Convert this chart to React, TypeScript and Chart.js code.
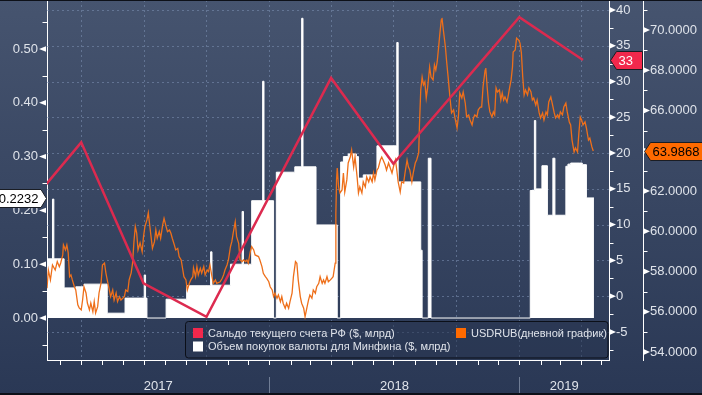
import React, { useEffect, useRef } from "react";
import { Chart, registerables } from "chart.js";

Chart.register(...registerables);

// x values: days counted from 2017-01-01
const xMinDay = 40;
const xMaxDay = 861;

const seriesNames = [
  "Сальдо текущего счета РФ ($, млрд)",
  "USDRUB(дневной график)",
  "Объем покупок валюты для Минфина ($, млрд)",
];
const yearLabels = ["2017", "2018", "2019"];

// Current account balance, $ bn (quarterly)
const caDays = [0, 90, 181, 273, 455, 546, 730, 823];
const caValues = [11.2, 21.5, 1.8, -2.9, 30.5, 18.5, 39.0, 33.0];

// MinFin FX purchases, $ bn per day (step levels)
const buyDays = [
  40, 48, 50, 65, 82, 94, 128, 154, 182, 184, 186, 214, 244, 279, 281, 308, 325, 327, 339, 355, 357, 371, 375,
  402, 412, 414, 433, 464, 469, 473, 480, 492, 495, 502, 522, 551, 553, 586, 588, 597, 601, 746, 752, 754, 763,
  771, 779, 782, 798, 801, 805, 818, 822, 828, 839,
];
const buyValues = [
  0.11, 0.221, 0.11, 0.056, 0.058, 0.063, 0.009, 0.037, 0.08, 0.037, 0, 0.035, 0.06, 0.123, 0.061, 0.1, 0.198, 0.1,
  0.218, 0.44, 0.218, 0, 0.271, 0.281, 0.557, 0.281, 0.173, 0, 0.29, 0.3, 0.305, 0.3, 0.26, 0.266, 0.32, 0.512,
  0.253, 0.126, 0, 0.297, 0, 0.237, 0.367, 0.24, 0.283, 0.191, 0.297, 0.191, 0.282, 0.286, 0.288, 0.288, 0.285,
  0.2232, 0.2232,
];

// USDRUB daily
const fxDays = [
  40, 42, 45, 48, 52, 55, 58, 60, 63, 64, 67, 69, 71, 73, 75, 77, 80, 82, 85, 87, 90, 92, 94, 97, 99, 102, 104, 107,
  109, 111, 114, 116, 119, 121, 124, 126, 128, 131, 133, 136, 138, 141, 143, 146, 148, 153, 155, 158, 160, 163, 165,
  167, 169, 171, 173, 176, 179, 181, 183, 186, 188, 190, 192, 194, 197, 199, 201, 204, 206, 209, 211, 214, 216, 219,
  221, 223, 226, 228, 231, 233, 236, 238, 240, 243, 245, 248, 250, 253, 254, 257, 259, 261, 264, 266, 269, 271, 274,
  276, 278, 281, 283, 286, 288, 293, 296, 298, 300, 303, 305, 308, 310, 312, 315, 317, 320, 322, 325, 327, 330, 332,
  334, 337, 339, 342, 344, 349, 351, 354, 356, 359, 361, 364, 366, 369, 371, 373, 376, 378, 381, 383, 385, 388, 390,
  393, 395, 398, 400, 403, 405, 407, 410, 412, 415, 417, 420, 422, 424, 427, 429, 432, 434, 437, 439, 442, 444, 446,
  449, 451, 454, 456, 458, 461, 462, 463, 464, 466, 468, 471, 473, 475, 478, 480, 483, 485, 488, 490, 493, 495, 497,
  500, 502, 505, 507, 510, 512, 515, 517, 519, 522, 524, 527, 529, 531, 534, 536, 539, 541, 544, 546, 549, 551, 553,
  556, 558, 561, 563, 566, 568, 570, 573, 575, 578, 580, 583, 584, 586, 588, 590, 592, 594, 596, 599, 601, 604, 606,
  608, 610, 612, 614, 616, 617, 619, 622, 624, 626, 629, 631, 634, 636, 639, 641, 643, 646, 648, 651, 653, 656, 658,
  661, 663, 665, 668, 670, 673, 675, 677, 680, 681, 683, 685, 687, 690, 692, 694, 696, 698, 701, 703, 705, 707, 709,
  712, 714, 716, 718, 720, 721, 724, 726, 729, 731, 733, 735, 737, 739, 742, 744, 747, 749, 751, 754, 756, 759, 761,
  764, 766, 769, 771, 773, 776, 778, 781, 783, 786, 788, 790, 793, 795, 798, 800, 803, 805, 807, 810, 812, 815, 817,
  819, 821, 823, 826, 828, 831, 833, 836, 838,
];
const fxValues = [
  57.17, 58.07, 57.58, 58.32, 58.07, 58.49, 58.24, 58.42, 58.82, 59.32, 59.07, 59.32, 58.92, 57.74, 57.83, 57.58,
  57.24, 57.08, 56.34, 56.19, 56.09, 56.58, 57.24, 56.93, 56.43, 56.09, 56.43, 56.0, 56.5, 55.94, 56.25, 56.93, 57.43,
  58.32, 58.42, 57.93, 57.58, 57.08, 56.75, 57.08, 56.58, 56.93, 56.5, 56.75, 56.58, 56.75, 57.08, 57.0, 57.58, 57.93,
  58.42, 59.48, 60.23, 59.91, 59.07, 59.42, 58.98, 59.73, 60.23, 60.56, 60.91, 60.31, 59.73, 59.15, 59.48, 60.06,
  59.65, 59.98, 59.65, 60.31, 60.64, 60.23, 59.98, 60.06, 59.9, 59.65, 59.32, 59.07, 59.15, 58.74, 58.57, 58.16,
  57.74, 57.58, 57.08, 57.41, 57.58, 57.74, 58.17, 57.74, 58.24, 57.83, 58.16, 57.91, 58.24, 57.83, 58.07, 57.99,
  58.32, 57.74, 57.41, 57.58, 57.41, 57.49, 57.66, 57.83, 58.07, 58.32, 58.57, 59.23, 59.48, 59.9, 60.47, 59.73,
  59.4, 58.57, 58.49, 58.57, 58.49, 58.57, 58.41, 58.98, 59.23, 59.07, 58.82, 58.74, 58.57, 58.24, 57.91, 57.74,
  57.66, 57.49, 57.24, 57.08, 56.75, 56.92, 56.67, 56.83, 56.5, 56.75, 56.42, 56.17, 56.42, 56.17, 56.5, 56.92,
  57.74, 58.49, 58.41, 57.58, 56.75, 56.42, 56.17, 55.75, 56.25, 56.58, 56.83, 56.67, 57.08, 56.92, 57.24, 57.41,
  57.74, 57.41, 57.58, 57.41, 57.74, 57.49, 57.58, 57.66, 57.74, 58.41, 60.89, 62.55, 63.14, 62.2, 61.9, 62.05,
  62.89, 61.95, 62.55, 63.39, 63.69, 64.04, 63.19, 63.69, 62.7, 61.9, 62.2, 61.9, 62.45, 62.2, 62.7, 62.45, 62.7,
  62.45, 62.89, 62.55, 63.04, 63.14, 63.54, 63.69, 63.54, 63.29, 63.04, 63.39, 63.19, 62.89, 63.19, 63.54, 63.04,
  62.45, 61.95, 62.45, 62.4, 62.89, 63.54, 63.19, 63.04, 62.45, 62.89, 63.39, 63.54, 63.89, 65.18, 67.02, 67.66,
  67.27, 67.42, 66.62, 67.12, 68.16, 67.66, 67.52, 68.26, 68.01, 68.41, 69.11, 69.85, 70.5, 70.6, 70.0, 69.16, 68.36,
  67.66, 66.52, 65.88, 66.03, 65.63, 65.13, 65.68, 66.87, 66.62, 66.92, 66.37, 65.68, 65.78, 65.53, 65.28, 65.63,
  65.78, 65.68, 66.03, 66.17, 66.17, 67.17, 68.01, 68.11, 67.17, 66.37, 65.93, 65.68, 65.93, 65.78, 67.12, 66.92,
  67.02, 66.52, 66.87, 66.52, 66.67, 66.42, 66.77, 67.17, 67.52, 68.16, 68.91, 69.01, 69.6, 69.5, 69.35, 68.86,
  67.66, 66.77, 67.02, 66.77, 67.12, 66.92, 66.52, 66.62, 66.27, 66.52, 65.88, 65.63, 65.88, 65.53, 65.93, 65.78,
  66.42, 66.67, 66.37, 65.88, 65.63, 65.78, 65.63, 65.93, 65.78, 66.17, 66.37, 65.93, 65.43, 65.28, 64.53, 63.94,
  64.14, 63.94, 64.88, 65.68, 65.53, 65.28, 65.43, 65.13, 64.53, 64.63, 64.19, 63.9868,
];

const leftTicks = [0, 0.1, 0.2, 0.3, 0.4, 0.5];
const leftMinor = [-0.05, 0.05, 0.15, 0.25, 0.35, 0.45, 0.55];
const caTicks = [-5, 0, 5, 10, 15, 20, 25, 30, 35, 40];
const caMinor = [-7.5, -2.5, 2.5, 7.5, 12.5, 17.5, 22.5, 27.5, 32.5, 37.5];
const fxTicks = [54, 56, 58, 60, 62, 64, 66, 68, 70];
const fxMinor = [55, 57, 59, 61, 63, 65, 67, 69, 71];

const RED = "#dc2a4f";
const RED_TAG = "#f2284c";
const ORANGE = "#ee6f1a";
const ORANGE_TAG = "#ff6a00";
const TEXT = "#dfe3ea";
const GRID = "rgba(125,145,180,0.55)";
const FONT = '"Liberation Sans", Arial, sans-serif';

const DAY_MS = 86400000;
const dayOf = (y: number, m: number) => (Date.UTC(y, m, 1) - Date.UTC(2017, 0, 1)) / DAY_MS;

function monthStarts() {
  const out: { day: number; m: number; y: number }[] = [];
  for (let y = 2017; y <= 2019; y++)
    for (let m = 0; m < 12; m++) {
      const d = dayOf(y, m);
      if (d > xMinDay && d < xMaxDay) out.push({ day: d, m, y });
    }
  return out;
}

const decor = {
  id: "decor",
  beforeDraw(chart: any) {
    const { ctx, width, height } = chart;
    const g = ctx.createLinearGradient(0, 0, 0, height);
    g.addColorStop(0, "#46546f");
    g.addColorStop(1, "#2a3855");
    ctx.save();
    ctx.fillStyle = g;
    ctx.fillRect(0, 0, width, height);
    ctx.restore();
  },
  beforeDatasetsDraw(chart: any) {
    const { ctx, chartArea: a, scales } = chart;
    ctx.save();
    ctx.strokeStyle = GRID;
    ctx.lineWidth = 1;
    ctx.setLineDash([2, 3]);
    for (const v of caTicks) {
      const y = Math.round(scales.yCA.getPixelForValue(v)) + 0.5;
      if (y < a.top + 2 || y > a.bottom - 2) continue;
      ctx.beginPath();
      ctx.moveTo(a.left, y);
      ctx.lineTo(a.right, y);
      ctx.stroke();
    }
    for (const ms of monthStarts()) {
      if (ms.m % 3 !== 0) continue;
      const x = Math.round(scales.x.getPixelForValue(ms.day)) + 0.5;
      ctx.beginPath();
      ctx.moveTo(x, a.top);
      ctx.lineTo(x, a.bottom);
      ctx.stroke();
    }
    ctx.restore();
  },
  afterDraw(chart: any) {
    const { ctx, chartArea: a, scales, width, height } = chart;
    const yL = scales.yL, yCA = scales.yCA, yFX = scales.yFX, x = scales.x;
    ctx.save();
    ctx.fillStyle = "#ffffff";
    ctx.strokeStyle = "#ffffff";
    ctx.lineWidth = 1;
    // major tick triangles
    const tri = (bx: number, tx: number, y: number) => {
      ctx.beginPath();
      ctx.moveTo(bx, y - 2.7);
      ctx.lineTo(bx, y + 2.7);
      ctx.lineTo(tx, y);
      ctx.closePath();
      ctx.fill();
    };
    const lx = yL.right;
    for (const v of leftTicks) tri(lx - 1, lx - 8, yL.getPixelForValue(v));
    for (const v of caTicks) tri(yCA.left + 1, yCA.left + 7, yCA.getPixelForValue(v));
    for (const v of fxTicks) tri(yFX.left + 1, yFX.left + 7, yFX.getPixelForValue(v));
    // minor ticks
    const hl = (x1: number, x2: number, y: number) => {
      const yy = Math.round(y) + 0.5;
      ctx.beginPath();
      ctx.moveTo(x1, yy);
      ctx.lineTo(x2, yy);
      ctx.stroke();
    };
    for (const v of leftMinor) hl(lx - 4.5, lx, yL.getPixelForValue(v));
    for (const v of caMinor) hl(yCA.left, yCA.left + 4.5, yCA.getPixelForValue(v));
    for (const v of fxMinor) hl(yFX.left, yFX.left + 4.5, yFX.getPixelForValue(v));
    // bottom axis line and month ticks
    ctx.beginPath();
    ctx.moveTo(a.left, a.bottom + 0.5);
    ctx.lineTo(a.right, a.bottom + 0.5);
    ctx.stroke();
    for (const ms of monthStarts()) {
      const px = Math.round(x.getPixelForValue(ms.day)) + 0.5;
      ctx.beginPath();
      ctx.moveTo(px, a.bottom);
      ctx.lineTo(px, a.bottom + 5);
      ctx.stroke();
    }
    // year separators and labels
    ctx.strokeStyle = "rgba(170,182,202,0.55)";
    const bounds = [xMinDay, dayOf(2018, 0), dayOf(2019, 0), xMaxDay];
    for (let i = 1; i < bounds.length - 1; i++) {
      const px = Math.round(x.getPixelForValue(bounds[i])) + 0.5;
      ctx.beginPath();
      ctx.moveTo(px, 377);
      ctx.lineTo(px, 393);
      ctx.stroke();
    }
    ctx.fillStyle = TEXT;
    ctx.font = "13px " + FONT;
    ctx.textAlign = "center";
    ctx.textBaseline = "middle";
    for (let i = 0; i < yearLabels.length; i++) {
      const cx = (x.getPixelForValue(bounds[i]) + x.getPixelForValue(bounds[i + 1])) / 2;
      ctx.fillText(yearLabels[i], cx, 386);
    }
    // legend
    const bx = 185.5, by = 321.5, bw = a.right - 1 - bx, bh = 36.5;
    ctx.beginPath();
    ctx.roundRect(bx, by, bw, bh, 3);
    ctx.fillStyle = "rgba(40,52,80,0.55)";
    ctx.fill();
    ctx.strokeStyle = "#0b0f18";
    ctx.stroke();
    ctx.font = "11px " + FONT;
    ctx.textAlign = "left";
    const items = [
      { c: RED_TAG, t: seriesNames[0], x: 193, y: 333 },
      { c: ORANGE_TAG, t: seriesNames[1], x: 456, y: 333 },
      { c: "#ffffff", t: seriesNames[2], x: 193, y: 346.5 },
    ];
    for (const it of items) {
      ctx.fillStyle = it.c;
      ctx.fillRect(it.x, it.y - 5, 10, 10);
      ctx.fillStyle = TEXT;
      ctx.fillText(it.t, it.x + 15, it.y + 0.5);
    }
    // last-value tags
    ctx.font = "13px " + FONT;
    ctx.lineWidth = 1;
    ctx.strokeStyle = "#1a1d24";
    const lv = buyValues[buyValues.length - 1];
    let ty = Math.round(yL.getPixelForValue(lv)) + 0.5;
    ctx.beginPath();
    ctx.moveTo(-2, ty - 9);
    ctx.lineTo(lx - 6, ty - 9);
    ctx.lineTo(lx - 0.5, ty);
    ctx.lineTo(lx - 6, ty + 9);
    ctx.lineTo(-2, ty + 9);
    ctx.closePath();
    ctx.fillStyle = "#ffffff";
    ctx.fill();
    ctx.stroke();
    ctx.fillStyle = "#000000";
    ctx.textAlign = "right";
    ctx.fillText(lv.toFixed(4), lx - 8.5, ty + 1);
    const rtag = (left: number, right: number, y: number, fill: string, color: string, txt: string) => {
      const yy = Math.round(y) + 0.5;
      ctx.beginPath();
      ctx.moveTo(left, yy);
      ctx.lineTo(left + 6, yy - 9);
      ctx.lineTo(right, yy - 9);
      ctx.lineTo(right, yy + 9);
      ctx.lineTo(left + 6, yy + 9);
      ctx.closePath();
      ctx.fillStyle = fill;
      ctx.fill();
      ctx.stroke();
      ctx.fillStyle = color;
      ctx.textAlign = "left";
      ctx.fillText(txt, left + 8, yy + 1);
    };
    const cv = caValues[caValues.length - 1];
    rtag(yCA.left + 1.5, yFX.left - 0.5, yCA.getPixelForValue(cv), RED_TAG, "#ffffff", String(cv));
    const fv = fxValues[fxValues.length - 1];
    rtag(yFX.left + 1.5, width + 2, yFX.getPixelForValue(fv), ORANGE_TAG, "#000000", fv.toFixed(4));
    // frame lines
    ctx.fillStyle = "#0d1018";
    ctx.fillRect(0, 0, width, 1);
    ctx.fillRect(0, height - 2, width, 2);
    ctx.restore();
  },
};

function yAxis(position: string, weight: number, min: number, max: number, ticks: number[], width: number, pad: number, fmt: (v: number) => string) {
  return {
    type: "linear",
    position,
    weight,
    min,
    max,
    afterBuildTicks: (s: any) => {
      s.ticks = ticks.map((v) => ({ value: v }));
    },
    afterFit: (s: any) => {
      s.width = width;
      s.paddingTop = 0;
      s.paddingBottom = 0;
    },
    grid: { display: false, drawOnChartArea: false, drawTicks: false },
    border: { display: true, color: "#ffffff", width: 1 },
    ticks: {
      autoSkip: false,
      color: TEXT,
      padding: pad,
      font: { family: FONT, size: 13 },
      callback: (v: any) => fmt(Number(v)),
    },
  };
}

export default function App() {
  const ref = useRef<HTMLCanvasElement | null>(null);
  useEffect(() => {
    document.body.style.margin = "0";
    const canvas = ref.current;
    if (!canvas) return;
    const chart = new Chart(canvas, {
      type: "line",
      data: {
        datasets: [
          {
            label: seriesNames[0],
            data: caDays.map((d, i) => ({ x: d, y: caValues[i] })),
            yAxisID: "yCA",
            borderColor: RED,
            borderWidth: 2.5,
            pointRadius: 0,
            tension: 0,
            fill: false,
            order: 0,
          },
          {
            label: seriesNames[1],
            data: fxDays.map((d, i) => ({ x: d, y: fxValues[i] })),
            yAxisID: "yFX",
            borderColor: ORANGE,
            borderWidth: 1.3,
            pointRadius: 0,
            tension: 0,
            fill: false,
            order: 1,
          },
          {
            label: seriesNames[2],
            data: buyDays.map((d, i) => ({ x: d, y: buyValues[i] })),
            yAxisID: "yL",
            borderColor: "#ffffff",
            backgroundColor: "#ffffff",
            borderWidth: 1,
            pointRadius: 0,
            stepped: true,
            fill: "origin",
            order: 2,
          },
        ],
      } as any,
      options: {
        animation: false,
        responsive: false,
        maintainAspectRatio: false,
        layout: { padding: { left: 0, right: 0, top: 0, bottom: 35 } },
        plugins: { legend: { display: false }, tooltip: { enabled: false } },
        scales: {
          x: { type: "linear", min: xMinDay, max: xMaxDay, display: false },
          yL: yAxis("left", 0, -0.078, 0.591, leftTicks, 47, 9, (v) => v.toFixed(2)),
          yCA: yAxis("right", 0, -8.92, 41.39, caTicks, 34, 7, (v) => String(v)),
          yFX: yAxis("right", 1, 53.6, 71.49, fxTicks, 59, 7, (v) => v.toFixed(4)),
        } as any,
      },
      plugins: [decor],
    } as any);
    return () => chart.destroy();
  }, []);
  return (
    <div style={{ width: 702, height: 395, position: "relative", overflow: "hidden" }}>
      <canvas ref={ref} width={702} height={395} style={{ display: "block", width: 702, height: 395 }} />
    </div>
  );
}
